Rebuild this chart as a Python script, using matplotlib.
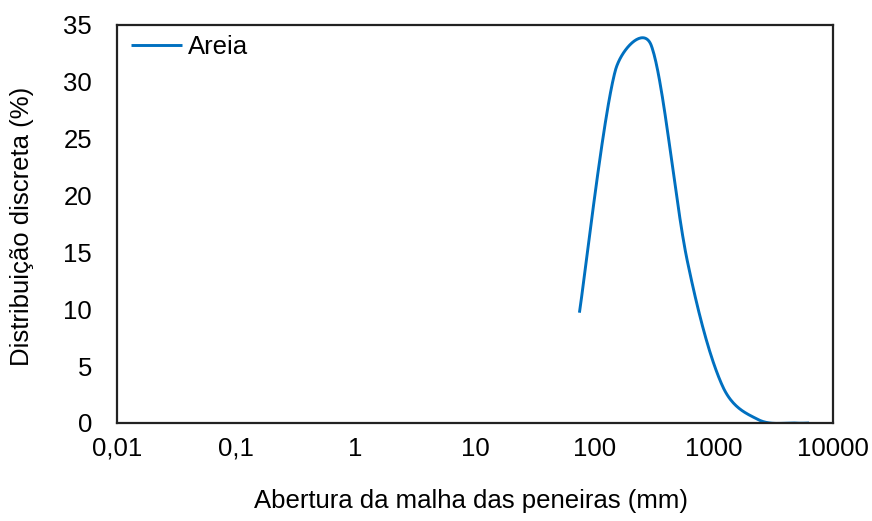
import matplotlib
matplotlib.use("Agg")
import matplotlib.pyplot as plt
import numpy as np

plt.rcParams['font.family'] = ['Liberation Sans', 'DejaVu Sans']

# sieve openings and discrete distribution
abertura = [75, 150, 300, 600, 1180, 2360, 4750, 6300]
areia = [9.7, 31.0, 33.2, 14.3, 3.3, 0.3, 0.0, 0.0]

x_ticks = [0.01, 0.1, 1, 10, 100, 1000, 10000]
x_tick_labels = ['0,01', '0,1', '1', '10', '100', '1000', '10000']
y_ticks = [0, 5, 10, 15, 20, 25, 30, 35]

FS = 18.5


def smooth_curve(ax, xs, ys, n=40, cap=0.5):
    """Smoothed line through the points: cubic Bezier segments with
    Catmull-Rom handles (tangent / 6), each handle capped to a fraction of
    its segment length. Built in display space so the log axis is respected."""
    pts = ax.transData.transform(np.column_stack([xs, ys]))
    m = len(pts)
    out_h, in_h = [], []
    for i in range(m):
        p_prev = pts[max(i - 1, 0)]
        p_next = pts[min(i + 1, m - 1)]
        h = (p_next - p_prev) / 6
        hl = np.hypot(*h)
        d_in = np.hypot(*(pts[i] - p_prev))
        d_out = np.hypot(*(p_next - pts[i]))
        if hl == 0:
            out_h.append(pts[i]); in_h.append(pts[i]); continue
        out_h.append(pts[i] + h * min(1, cap * d_out / hl))
        in_h.append(pts[i] - h * min(1, cap * d_in / hl))
    out = [pts[0]]
    t = np.linspace(0, 1, n)[1:, None]
    for i in range(m - 1):
        p1, p2 = pts[i], pts[i + 1]
        c1, c2 = out_h[i], in_h[i + 1]
        seg = ((1 - t) ** 3 * p1 + 3 * (1 - t) ** 2 * t * c1
               + 3 * (1 - t) * t ** 2 * c2 + t ** 3 * p2)
        out.extend(seg)
    data = ax.transData.inverted().transform(np.array(out))
    return data[:, 0], data[:, 1]


fig = plt.figure(figsize=(8.72, 5.21), dpi=100)
ax = fig.add_axes([117 / 872, 1 - 423 / 521, (833 - 117) / 872, (423 - 25) / 521])

ax.set_xscale('log')
ax.set_xlim(0.01, 10000)
ax.set_ylim(0, 35)

sx, sy = smooth_curve(ax, abertura, areia)
ax.plot(sx, sy, color='#0070C0', lw=2.1, label='Areia', solid_capstyle='butt')

ax.set_xticks(x_ticks)
ax.set_xticklabels(x_tick_labels)
ax.minorticks_off()
ax.set_yticks(y_ticks)
ax.tick_params(axis='both', length=0, labelsize=FS, colors='black')
ax.tick_params(axis='y', pad=18)
ax.tick_params(axis='x', pad=10)

for s in ax.spines.values():
    s.set_linewidth(1.6)
    s.set_color('#222222')

ax.set_xlabel('Abertura da malha das peneiras (mm)', fontsize=FS, va='center')
ax.xaxis.set_label_coords(0.494, (423 - 501) / 398)
ax.set_ylabel('Distribuição discreta (%)', fontsize=FS, va='center')
ax.yaxis.set_label_coords((22 - 117) / 716, (423 - 226) / 398)

ax.legend(loc='upper left', frameon=False, fontsize=FS, handlelength=2.0,
          handletextpad=0.2, borderpad=0, borderaxespad=0,
          bbox_to_anchor=((131 - 117) / 716, (423 - 35) / 398))

fig.savefig('out.png', dpi=100)
